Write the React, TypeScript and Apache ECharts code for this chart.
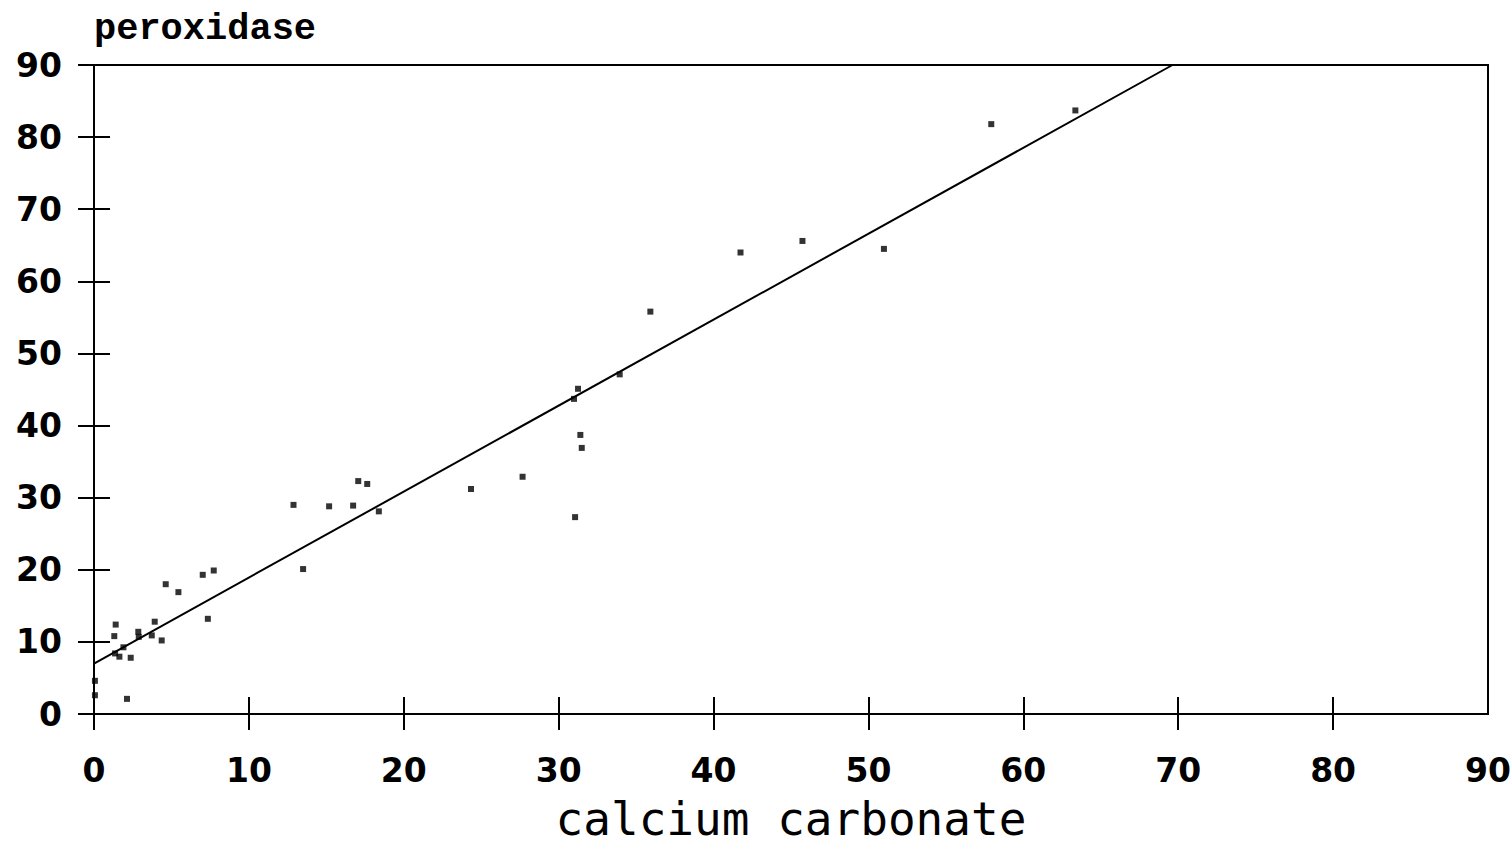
import React, { useEffect, useRef } from "react";
import * as echarts from "echarts";

// calcium carbonate (x) values of the observations
const calciumCarbonate = [
  0.06, 0.06, 1.40, 1.31, 1.36, 1.64, 1.90, 2.37, 2.13, 2.86, 2.89, 3.73, 3.92, 4.37,
  4.63, 5.45, 7.02, 7.73, 7.35, 13.5, 12.88, 15.18, 16.73, 17.06, 17.64, 18.39,
  24.34, 27.67, 31.06, 30.99, 31.25, 31.4, 31.49, 33.94, 35.92, 41.74, 45.74, 51.0,
  57.93, 63.36,
];
// peroxidase (y) values of the observations
const peroxidase = [
  4.6, 2.6, 12.4, 10.8, 8.4, 7.95, 9.25, 7.8, 2.1, 11.4, 10.7, 10.9, 12.8, 10.2,
  18.0, 16.9, 19.3, 19.9, 13.2, 20.1, 29.0, 28.8, 28.9, 32.3, 31.9, 28.1,
  31.2, 32.9, 27.3, 43.7, 45.1, 38.7, 36.9, 47.1, 55.8, 64.0, 65.6, 64.5,
  81.8, 83.7,
];
// regression line end points
const fitX = [0, 69.63];
const fitY = [7.0, 90.0];

const xTicks = [0, 10, 20, 30, 40, 50, 60, 70, 80];
const xTitle = "calcium carbonate";
const yTitle = "peroxidase";

export default function App() {
  const ref = useRef<HTMLDivElement>(null);
  useEffect(() => {
    if (!ref.current) return;
    const chart = echarts.init(ref.current, null, { renderer: "svg" });
    const labelFont = {
      color: "#000",
      fontFamily: "DejaVu Sans",
      fontWeight: "bold" as const,
      fontSize: 33,
    };
    chart.setOption({
      animation: false,
      backgroundColor: "#fff",
      grid: {
        left: 94,
        right: 24,
        top: 65,
        bottom: 133,
        outerBoundsMode: "none",
        containLabel: false,
        show: true,
        borderColor: "#000",
        borderWidth: 2,
        backgroundColor: "transparent",
      },
      xAxis: {
        type: "value",
        min: 0,
        max: 90,
        interval: 10,
        offset: -17,
        name: xTitle,
        nameLocation: "middle",
        nameGap: 99,
        nameTextStyle: {
          color: "#000",
          fontFamily: "DejaVu Sans Mono",
          fontSize: 46,
          lineHeight: 46,
        },
        axisLine: { show: false },
        axisTick: {
          show: true,
          length: 33,
          customValues: xTicks,
          lineStyle: { color: "#000", width: 2 },
        },
        axisLabel: { ...labelFont, margin: 40 + 17 },
        splitLine: { show: false },
      },
      yAxis: {
        type: "value",
        min: 0,
        max: 90,
        interval: 10,
        offset: -16,
        name: yTitle,
        nameLocation: "end",
        nameGap: 36,
        nameTextStyle: {
          color: "#000",
          fontFamily: "Liberation Mono",
          fontWeight: "bold",
          fontSize: 37,
          align: "left",
          verticalAlign: "middle",
          padding: [0, 0, 0, -16],
        },
        axisLine: { show: false },
        axisTick: { show: true, length: 32, lineStyle: { color: "#000", width: 2 } },
        axisLabel: { ...labelFont, margin: 32 + 16 },
        splitLine: { show: false },
      },
      series: [
        {
          type: "scatter",
          data: calciumCarbonate.map((x, i) => [x, peroxidase[i]]),
          symbol: "rect",
          symbolSize: 6,
          itemStyle: { color: "#000" },
        },
        {
          type: "line",
          data: fitX.map((x, i) => [x, fitY[i]]),
          symbol: "none",
          lineStyle: { color: "#000", width: 2 },
        },
      ],
    });
    return () => chart.dispose();
  }, []);
  return (
    <div
      ref={ref}
      style={{ position: "absolute", left: 0, top: 0, width: 1512, height: 847 }}
    />
  );
}
